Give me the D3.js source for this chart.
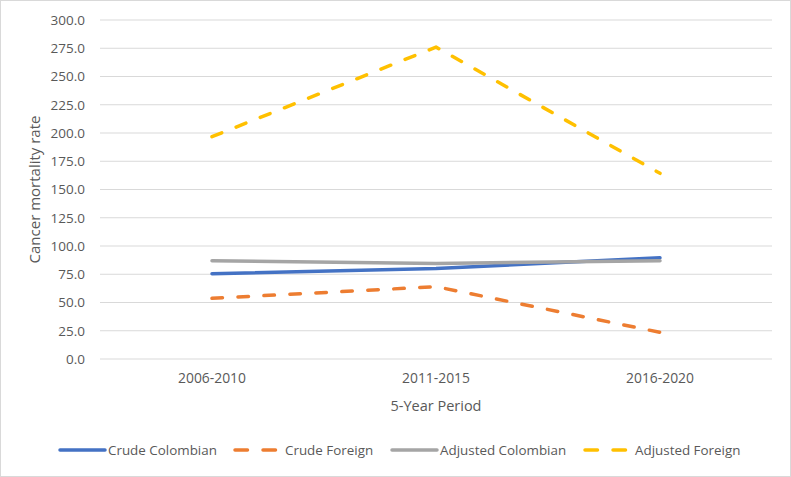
<!DOCTYPE html>
<html><head><meta charset="utf-8">
<script src="https://cdn.jsdelivr.net/npm/d3@7"></script>
<style>body{margin:0;background:#fff;}text{font-family:"Open Sans",sans-serif;}</style>
</head><body><svg id="c" width="791" height="477"></svg>
<script>
const periods = ["2006-2010","2011-2015","2016-2020"];
const crudeColombian = [75.5, 80.0, 89.6];
const crudeForeign = [53.7, 64.0, 23.6];
const adjustedColombian = [87.0, 84.5, 87.0];
const adjustedForeign = [196.7, 276.0, 164.3];
const yTicks = [0,25,50,75,100,125,150,175,200,225,250,275,300];
const seriesNames = ["Crude Colombian","Crude Foreign","Adjusted Colombian","Adjusted Foreign"];

const series = [
  {name: seriesNames[0], values: crudeColombian, color:"#4472C4", dash:false},
  {name: seriesNames[1], values: crudeForeign, color:"#ED7D31", dash:true},
  {name: seriesNames[2], values: adjustedColombian, color:"#A5A5A5", dash:false},
  {name: seriesNames[3], values: adjustedForeign, color:"#FFC000", dash:true}
];

const svg = d3.select("#c");
svg.append("rect").attr("x",0.5).attr("y",0.5).attr("width",790).attr("height",476)
  .attr("fill","#fff").attr("stroke","#d9d9d9");

const L=100,R=772,T=20,B=359;
const x = d3.scaleBand().domain(periods).range([L,R]);
const y = d3.scaleLinear().domain([0,300]).range([B,T]);

svg.append("g").selectAll("line").data(yTicks).enter().append("line")
  .attr("x1",L).attr("x2",R).attr("y1",d=>y(d)).attr("y2",d=>y(d))
  .attr("stroke","#d9d9d9").attr("stroke-width",1);

const yAxis = svg.append("g").attr("transform",`translate(${L},0)`)
  .call(d3.axisLeft(y).tickValues(yTicks).tickFormat(d3.format(".1f")).tickSize(0).tickPadding(15));
yAxis.select(".domain").remove();
yAxis.selectAll("text").attr("fill","#595959").style("font-size","13.5px");

const xAxis = svg.append("g").attr("transform",`translate(0,${B})`)
  .call(d3.axisBottom(x).tickSize(0).tickPadding(14));
xAxis.select(".domain").remove();
xAxis.selectAll("text").attr("fill","#595959").style("font-size","13.9px");

svg.append("text").attr("x",(L+R)/2).attr("y",411).attr("text-anchor","middle")
  .attr("fill","#595959").style("font-size","14.5px").text("5-Year Period");
svg.append("text").attr("transform",`translate(40,${(T+B)/2}) rotate(-90)`).attr("text-anchor","middle")
  .attr("fill","#595959").style("font-size","15px").text("Cancer mortality rate");

const line = d3.line().x((d,i)=>x(periods[i])+x.bandwidth()/2).y(d=>y(d));
series.forEach(s=>{
  svg.append("path").datum(s.values).attr("d",line).attr("fill","none")
    .attr("stroke",s.color).attr("stroke-width",3.5).attr("stroke-linecap","round")
    .attr("stroke-linejoin","round").attr("stroke-dasharray",s.dash?"10.5,15.5":null);
});

const legX = [60,235,392,585];
const legY = 450;
series.forEach((s,i)=>{
  const lg = svg.append("g").attr("transform",`translate(${legX[i]},${legY})`);
  lg.append("line").attr("x1",0).attr("x2",s.dash?41:45).attr("y1",0).attr("y2",0)
    .attr("stroke",s.color).attr("stroke-width",3.5).attr("stroke-linecap","round")
    .attr("stroke-dasharray",s.dash? "12.5,15.5":null);
  lg.append("text").attr("x",s.dash?50:48).attr("y",4.8).attr("fill","#595959")
    .style("font-size","13.4px").text(s.name);
});
</script></body></html>
